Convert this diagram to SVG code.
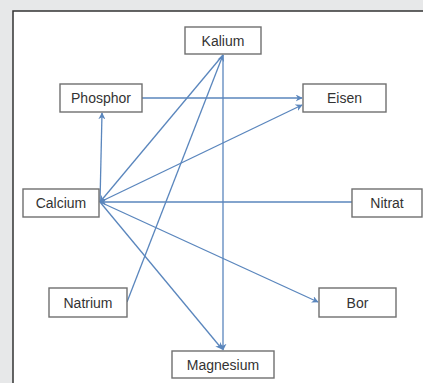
<svg xmlns="http://www.w3.org/2000/svg" width="423" height="383" viewBox="0 0 423 383">
<defs>
<style>
.box{fill:#fff;stroke:#6f6f6f;stroke-width:1.4}
.lbl{font-family:"Liberation Sans","Open Sans",sans-serif;font-size:14px;fill:#333;text-anchor:middle}
.edge{stroke:#5a86bd;stroke-width:1.3;fill:none}
</style>
<marker id="arr" viewBox="0 0 10 10" refX="9" refY="5" markerWidth="7" markerHeight="7" markerUnits="userSpaceOnUse" orient="auto">
<path d="M0,0 L10,5 L0,10 L3,5 Z" fill="#5a86bd"/>
</marker>
</defs>
<rect x="0" y="0" width="423" height="383" fill="#e7e8e9"/>
<rect x="13" y="11" width="420" height="380" fill="#fff" stroke="#333" stroke-width="1.5"/>
<g id="connectors">
<line class="edge" x1="142" y1="98" x2="302" y2="98" marker-end="url(#arr)"/>
<line class="edge" x1="100" y1="202" x2="102" y2="113" marker-end="url(#arr)"/>
<line class="edge" x1="127" y1="302" x2="223" y2="55" marker-end="url(#arr)"/>
<line class="edge" x1="223" y1="55" x2="100" y2="202" marker-end="url(#arr)"/>
<line class="edge" x1="223" y1="55" x2="223" y2="350" marker-end="url(#arr)"/>
<line class="edge" x1="100" y1="202" x2="302" y2="105" marker-end="url(#arr)"/>
<line class="edge" x1="352" y1="202" x2="100" y2="202" marker-end="url(#arr)"/>
<line class="edge" x1="100" y1="202" x2="318" y2="302" marker-end="url(#arr)"/>
<line class="edge" x1="100" y1="202" x2="222" y2="349" marker-end="url(#arr)"/>
</g>
<g id="kalium"><rect class="box" x="185" y="27" width="76" height="27"/><text class="lbl" x="223" y="45.5">Kalium</text></g>
<g id="phosphor"><rect class="box" x="60" y="84" width="82" height="28"/><text class="lbl" x="101" y="103">Phosphor</text></g>
<g id="eisen"><rect class="box" x="303" y="84" width="83" height="28"/><text class="lbl" x="344.5" y="103">Eisen</text></g>
<g id="calcium"><rect class="box" x="23" y="189" width="76" height="28"/><text class="lbl" x="61" y="208">Calcium</text></g>
<g id="nitrat"><rect class="box" x="352" y="189" width="70" height="28"/><text class="lbl" x="387" y="208">Nitrat</text></g>
<g id="natrium"><rect class="box" x="49" y="288" width="78" height="29"/><text class="lbl" x="88" y="307.5">Natrium</text></g>
<g id="bor"><rect class="box" x="319" y="288" width="77" height="29"/><text class="lbl" x="357.5" y="307.5">Bor</text></g>
<g id="magnesium"><rect class="box" x="172" y="351" width="102" height="27"/><text class="lbl" x="223" y="369.5">Magnesium</text></g>
</svg>
